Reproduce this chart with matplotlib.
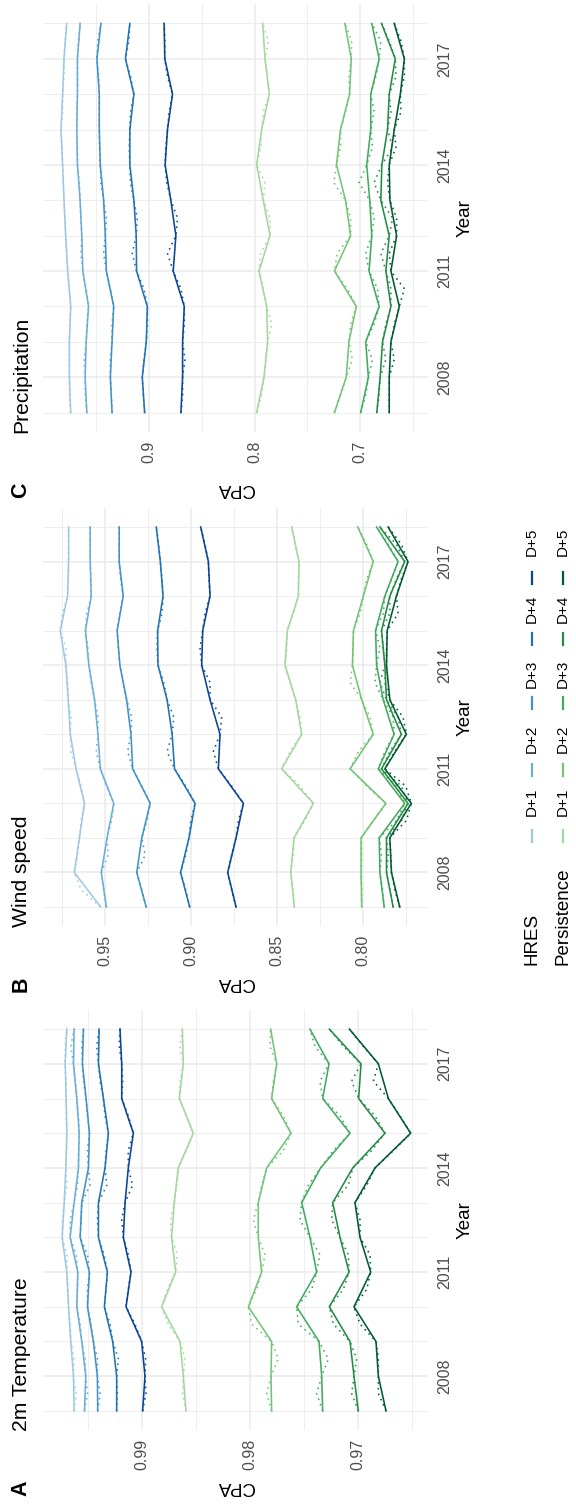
import numpy as np
import matplotlib
matplotlib.use("Agg")
import matplotlib.pyplot as plt
from matplotlib.lines import Line2D
from matplotlib.ticker import FixedLocator, FixedFormatter

plt.rcParams['font.family'] = ['Liberation Sans', 'DejaVu Sans']

years = list(range(2007, 2019))
mid_years = [y + 0.5 for y in range(2007, 2018)]
leads = ['D+1', 'D+2', 'D+3', 'D+4', 'D+5']

hres_colors = ['#9ecae1', '#6baed6', '#4292c6', '#2171b5', '#084594']
pers_colors = ['#a1d99b', '#74c476', '#41ab5d', '#238b45', '#005a32']

# ---------------- 2m Temperature ----------------
t2m_hres = [
    [.99633, .99639, .99664, .99685, .99701, .99744, .99725, .99710, .99701, .99707, .99716, .99701],
    [.99537, .99525, .99562, .99608, .99599, .99670, .99633, .99593, .99586, .99608, .99639, .99633],
    [.99414, .99417, .99454, .99509, .99491, .99577, .99562, .99500, .99491, .99522, .99556, .99546],
    [.99238, .99238, .99275, .99352, .99324, .99407, .99407, .99346, .99315, .99361, .99407, .99401],
    [.98997, .98975, .99006, .99151, .99105, .99176, .99160, .99130, .99083, .99191, .99191, .99207],
]
t2m_hres_mid = [
    [.99614, .99633, .99670, .99691, .99701, .99741, .99701, .99701, .99707, .99707, .99716],
    [.99509, .99531, .99577, .99602, .99614, .99670, .99602, .99593, .99593, .99623, .99664],
    [.99392, .99417, .99478, .99509, .99509, .99568, .99485, .99509, .99509, .99546, .99562],
    [.99231, .99222, .99299, .99336, .99355, .99417, .99330, .99336, .99346, .99392, .99423],
    [.98966, .98969, .99068, .99130, .99130, .99191, .99090, .99130, .99130, .99182, .99213],
]
t2m_pers = [
    [.98594, .98619, .98650, .98820, .98690, .98728, .98703, .98666, .98526, .98656, .98619, .98628],
    [.97799, .97805, .97799, .98015, .97892, .97923, .97923, .97845, .97619, .97799, .97752, .97808],
    [.97325, .97334, .97359, .97567, .97381, .97443, .97520, .97344, .97071, .97325, .97266, .97443],
    [.96994, .97034, .97071, .97263, .97080, .97164, .97232, .97046, .96746, .96991, .96969, .97263],
    [.96737, .96808, .96830, .97034, .96879, .96978, .97025, .96839, .96508, .96715, .96808, .97077],
]
t2m_pers_mid = [
    [.98625, .98604, .98759, .98768, .98675, .98737, .98681, .98588, .98588, .98650, .98650],
    [.97845, .97737, .97985, .97938, .97861, .97969, .97892, .97690, .97690, .97783, .97814],
    [.97381, .97272, .97551, .97427, .97350, .97536, .97458, .97226, .97164, .97350, .97396],
    [.97056, .97009, .97226, .97133, .97087, .97241, .97087, .96870, .96839, .97056, .97133],
    [.96808, .96808, .96978, .96916, .96885, .96978, .96916, .96669, .96607, .96854, .96947],
]

# ---------------- Wind speed ----------------
ws_hres = [
    [.95235, .96765, .96471, .96176, .96667, .97000, .97118, .97255, .97588, .97157, .97098, .97098],
    [.94902, .95196, .94863, .94471, .95255, .95392, .95588, .95922, .96118, .95784, .95843, .95843],
    [.92588, .93137, .92843, .92353, .93373, .93471, .93725, .94118, .94275, .93922, .94157, .94157],
    [.90059, .90588, .90098, .89745, .90941, .91078, .91373, .91902, .91922, .91608, .91765, .92000],
    [.87364, .87849, .87364, .86938, .88391, .88295, .88876, .89360, .89302, .88876, .88973, .89419],
]
ws_hres_mid = [
    [.96373, .96569, .96373, .96373, .96961, .96961, .97157, .97255, .97451, .97118, .97098],
    [.95059, .94804, .94608, .94902, .95490, .95392, .95784, .95980, .96039, .95784, .95843],
    [.92843, .92647, .92549, .92843, .93667, .93431, .93922, .94216, .94118, .94078, .94157],
    [.90294, .90294, .90000, .90294, .91373, .90980, .91569, .91961, .91667, .91667, .91863],
    [.87616, .87616, .87229, .87616, .88682, .88198, .88876, .89457, .89167, .88934, .89167],
]
ws_pers = [
    [.83973, .84186, .83992, .82868, .84709, .83547, .83895, .84516, .84380, .83740, .83702, .84128],
    [.80058, .80096, .80096, .78654, .80731, .79385, .80058, .80596, .80538, .79962, .79385, .80288],
    [.78750, .79000, .79038, .77558, .79096, .78173, .78808, .79192, .79250, .78712, .77942, .79192],
    [.78231, .78615, .78615, .77365, .78904, .77750, .78615, .78712, .78904, .78423, .77558, .79000],
    [.77846, .78327, .78423, .77173, .78712, .77462, .78423, .78615, .78577, .78038, .77365, .78519],
]
ws_pers_mid = [
    [.84031, .84031, .83353, .83643, .84225, .83643, .84225, .84419, .84031, .83740, .83934],
    [.80058, .80058, .79385, .79769, .80250, .79577, .80731, .80538, .80154, .79769, .79769],
    [.78846, .78904, .78038, .78038, .78712, .78231, .79288, .79000, .78808, .78327, .78519],
    [.78423, .78519, .77750, .77750, .78423, .77942, .79000, .78808, .78423, .78038, .78038],
    [.78135, .78365, .77462, .77500, .78135, .77654, .78712, .78615, .77942, .77750, .77750],
]

# ---------------- Precipitation ----------------
tp_hres = [
    [.97420, .97548, .97548, .97420, .97707, .97898, .98057, .98185, .98344, .98185, .98057, .97803],
    [.95892, .96051, .95955, .95732, .96274, .96369, .96529, .96783, .96847, .96783, .96783, .96529],
    [.93503, .93662, .93503, .93344, .94045, .94140, .94299, .94618, .94713, .94713, .94936, .94554],
    [.90414, .90637, .90255, .90159, .91178, .91210, .91433, .91815, .91815, .91433, .92229, .91815],
    [.86975, .86815, .86815, .86656, .87707, .87452, .87930, .88471, .88248, .87771, .88503, .88567],
]
tp_hres_mid = [
    [.97548, .97548, .97484, .97548, .97803, .97962, .98121, .98248, .98185, .98057, .97962],
    [.96051, .96146, .95892, .95955, .96465, .96465, .96592, .96783, .96847, .96783, .96688],
    [.93567, .93662, .93503, .93662, .94299, .94045, .94554, .94682, .94713, .94777, .94841],
    [.90541, .90478, .90159, .90478, .91592, .91115, .91752, .91879, .91752, .91752, .91911],
    [.86815, .86592, .86656, .86975, .88248, .87293, .88312, .88408, .88089, .88248, .88503],
]
tp_pers = [
    [.79795, .79100, .78752, .78847, .79573, .78531, .79163, .79795, .79321, .78594, .79005, .79226],
    [.72420, .71306, .71051, .70350, .72420, .70892, .71369, .72229, .71847, .70987, .70828, .71433],
    [.69936, .69204, .69459, .68185, .69140, .68885, .69076, .69363, .68981, .68981, .68185, .68885],
    [.68408, .68089, .67866, .67070, .67548, .67229, .68025, .67930, .67389, .67229, .66656, .67962],
    [.67229, .67229, .67070, .66274, .67070, .66529, .67166, .67229, .66752, .66178, .65796, .66752],
]
tp_pers_mid = [
    [.79321, .78910, .78373, .79163, .79415, .78531, .79005, .79415, .79163, .78784, .78689],
    [.71847, .70732, .70892, .71210, .72166, .70892, .72484, .71847, .71369, .71051, .70796],
    [.69459, .68822, .68662, .68344, .69459, .68662, .70096, .68822, .68662, .68503, .68025],
    [.68185, .67548, .67548, .67070, .68025, .66911, .68662, .66911, .67070, .66592, .67229],
    [.67229, .66752, .66752, .65796, .67229, .66529, .67389, .66592, .66115, .65796, .66115],
]

year_major = [2008, 2011, 2014, 2017]
year_minor = [2007, 2009, 2010, 2012, 2013, 2015, 2016, 2018]

panels = [
    dict(letter='A', title='2m Temperature', box=(43, 1010, 428, 1430),
         lim=(0.99922, 0.96347), major=[0.97, 0.98, 0.99],
         minor=[0.965, 0.975, 0.985, 0.995], fmt='{:.2f}',
         hres=t2m_hres, hres_mid=t2m_hres_mid, pers=t2m_pers, pers_mid=t2m_pers_mid),
    dict(letter='B', title='Wind speed', box=(43, 508, 428, 926),
         lim=(0.98587, 0.76203), major=[0.80, 0.85, 0.90, 0.95],
         minor=[0.775, 0.825, 0.875, 0.925, 0.975], fmt='{:.2f}',
         hres=ws_hres, hres_mid=ws_hres_mid, pers=ws_pers, pers_mid=ws_pers_mid),
    dict(letter='C', title='Precipitation', box=(43, 4, 428, 432),
         lim=(1.00047, 0.63555), major=[0.7, 0.8, 0.9],
         minor=[0.65, 0.75, 0.85, 0.95], fmt='{:.1f}',
         hres=tp_hres, hres_mid=tp_hres_mid, pers=tp_pers, pers_mid=tp_pers_mid),
]

W, H = 576, 1506
fig = plt.figure(figsize=(W / 100, H / 100), dpi=100)

GRID = '#EBEBEB'
TICK_TXT = '#4D4D4D'


def fx(px):
    return px / W


def fy(py):
    return 1 - py / H


def interleave(annual, mid):
    xs, vs = [], []
    for i, y in enumerate(years):
        xs.append(y)
        vs.append(annual[i])
        if i < len(mid):
            xs.append(mid_years[i])
            vs.append(mid[i])
    return xs, vs


for p in panels:
    x0, y0, x1, y1 = p['box']
    ax = fig.add_axes([fx(x0), fy(y1), (x1 - x0) / W, (y1 - y0) / H])
    ax.set_xlim(*p['lim'])
    ax.set_ylim(2007 - 0.55, 2018 + 0.55)

    for series, mids, cols in ((p['hres'], p['hres_mid'], hres_colors),
                               (p['pers'], p['pers_mid'], pers_colors)):
        for vals, mvals, c in zip(series, mids, cols):
            yy, vv = interleave(vals, mvals)
            ax.plot(vv, yy, color=c, lw=1.15, dashes=(1.0, 2.6),
                    dash_capstyle='butt', zorder=2)
            ax.plot(vals, years, color=c, lw=1.15, zorder=3, solid_joinstyle='miter')

    ax.xaxis.set_major_locator(FixedLocator(p['major']))
    ax.xaxis.set_major_formatter(FixedFormatter([p['fmt'].format(v) for v in p['major']]))
    ax.xaxis.set_minor_locator(FixedLocator(p['minor']))
    ax.yaxis.set_major_locator(FixedLocator(year_major))
    ax.yaxis.set_major_formatter(FixedFormatter([str(y) for y in year_major]))
    ax.yaxis.set_minor_locator(FixedLocator(year_minor))
    ax.yaxis.tick_right()

    ax.grid(which='major', color=GRID, lw=1.1, zorder=0)
    ax.grid(which='minor', color=GRID, lw=0.6, zorder=0)
    ax.set_axisbelow(True)
    for s in ax.spines.values():
        s.set_visible(False)
    ax.tick_params(which='both', length=0, pad=6.5, colors=TICK_TXT, labelsize=11.5)
    for lab in ax.get_xticklabels():
        lab.set_rotation(90)
        lab.set_va('top')
        lab.set_ha('center')
    for lab in ax.get_yticklabels():
        lab.set_rotation(90)
        lab.set_va('center')
        lab.set_ha('left')

    ph = y1 - y0
    pw = x1 - x0
    ax.set_xlabel('CPA', rotation=180, fontsize=13.5, color='black', va='center', ha='center')
    ax.xaxis.set_label_coords(0.5, -56 / ph)
    ax.yaxis.set_label_position('right')
    ax.set_ylabel('Year', rotation=90, fontsize=13.5, color='black', va='center', ha='center')
    ax.yaxis.set_label_coords(1 + 37 / pw, 0.5)

    # panel title and letter
    fig.text(fx(22), fy(y1 + 1), p['title'], rotation=90, ha='center', va='bottom',
             fontsize=15.2, color='black')
    fig.text(fx(21), fy(y1 + 58), p['letter'], rotation=90, ha='center', va='center',
             fontsize=15.5, fontweight='bold', color='black')

# legend
legend_rows = [('HRES', 532, hres_colors), ('Persistence', 563, pers_colors)]
key_centres = [836, 770, 703, 639, 578]
text_starts = [816, 753, 688, 623, 556]
for title, xc, cols in legend_rows:
    fig.text(fx(xc), fy(965), title, rotation=90, ha='center', va='bottom',
             fontsize=13.5, color='black')
    for lab, kc, ts, c in zip(leads, key_centres, text_starts, cols):
        fig.add_artist(Line2D([fx(xc), fx(xc)], [fy(kc + 6), fy(kc - 6)],
                              transform=fig.transFigure, color=c, lw=1.6))
        fig.text(fx(xc), fy(ts), lab, rotation=90, ha='center', va='bottom',
                 fontsize=11, color='black')

fig.savefig('out.png', dpi=100, facecolor='white')
